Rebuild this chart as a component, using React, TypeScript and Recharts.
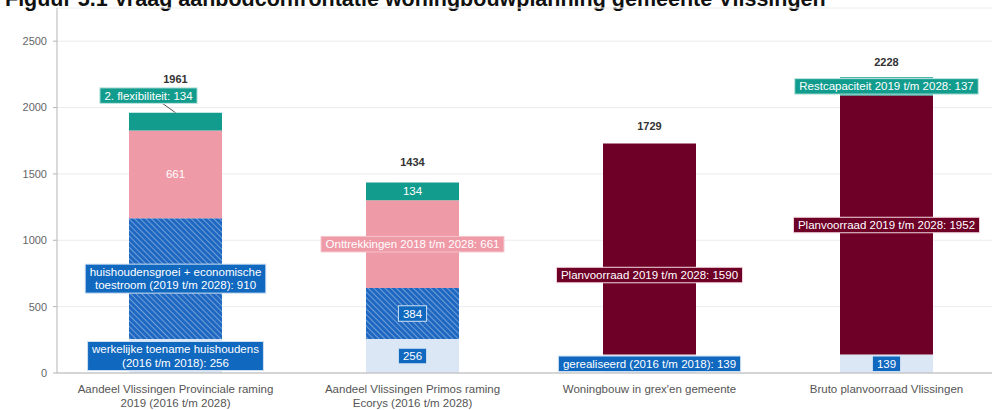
import React from "react";
import { ComposedChart, Bar, Line, XAxis, YAxis, CartesianGrid, LabelList } from "recharts";

const categories = ["Provinciale raming", "Primos raming", "Woningbouw grex", "Bruto planvoorraad"];
const categoryLines = [
  ["Aandeel Vlissingen Provinciale raming", "2019 (2016 t/m 2028)"],
  ["Aandeel Vlissingen Primos raming", "Ecorys (2016 t/m 2028)"],
  ["Woningbouw in grex'en gemeente"],
  ["Bruto planvoorraad Vlissingen"],
];

const realised = [256, 256, 139, 139];
const growth = [910, 384, 0, 0];
const demolition = [661, 661, 0, 0];
const planned = [0, 0, 1590, 1952];
const flexibility = [134, 134, 0, 137];
const totals = [1961, 1434, 1729, 2228];
const yTicks = [0, 500, 1000, 1500, 2000, 2500];

const realisedLabels = [
  ["werkelijke toename huishoudens", "(2016 t/m 2018): 256"],
  ["256"],
  ["gerealiseerd (2016 t/m 2018): 139"],
  ["139"],
];
const growthLabels = [["huishoudensgroei + economische", "toestroom (2019 t/m 2028): 910"], ["384"], [], []];
const demolitionLabels = [["661"], ["Onttrekkingen 2018 t/m 2028: 661"], [], []];
const plannedLabels = [[], [], ["Planvoorraad 2019 t/m 2028: 1590"], ["Planvoorraad 2019 t/m 2028: 1952"]];
const flexLabels = [["2. flexibiliteit: 134"], ["134"], [], ["Restcapaciteit 2019 t/m 2028: 137"]];

const data = categories.map((name, i) => ({
  name,
  realised: realised[i],
  growth: growth[i],
  demolition: demolition[i],
  planned: planned[i],
  flexibility: flexibility[i],
  total: totals[i],
}));

const FONT = "'Liberation Sans', Arial, sans-serif";
const LABEL_SIZE = 11.5;

let ctx: CanvasRenderingContext2D | null = null;
function textWidth(s: string) {
  if (!ctx) ctx = document.createElement("canvas").getContext("2d");
  if (!ctx) return s.length * 6;
  ctx.font = `${LABEL_SIZE}px ${FONT}`;
  return ctx.measureText(s).width;
}

// per-bar label tweaks: shift, leader line, border
type Tweak = { dx?: number; dy?: number; leader?: boolean; plain?: boolean };

function boxLabel(
  values: number[],
  lines: string[][],
  fill: string,
  stroke: string,
  tweaks: Record<number, Tweak> = {}
) {
  // zero segments are skipped by the label list, so map back to the category
  const shown = values.map((v, i) => (v ? i : -1)).filter((i) => i >= 0);
  return (props: any) => {
    let cat = props.payload && props.payload.name ? categories.indexOf(props.payload.name) : -1;
    if (cat < 0) cat = shown[props.index] ?? props.index;
    const txt = lines[cat];
    if (!txt || !txt.length) return null;
    const vb = props.viewBox || {};
    const x = Number(props.x ?? vb.x);
    const y = Number(props.y ?? vb.y);
    const w = Number(props.width ?? vb.width);
    const h = Number(props.height ?? vb.height);
    const t = tweaks[cat] || {};
    const cx = x + w / 2 + (t.dx || 0);
    const cy = y + h / 2 + (t.dy || 0);
    const lh = 13.5;
    const bw = Math.max(...txt.map(textWidth)) + 9;
    const bh = txt.length * lh + 2;
    const top = cy - bh / 2;
    return (
      <g>
        {t.leader && <line x1={cx + 14} y1={top + bh} x2={x + w / 2} y2={y} stroke="#555" strokeWidth={1} />}
        <rect
          x={cx - bw / 2}
          y={top}
          width={bw}
          height={bh}
          fill={fill}
          stroke={t.plain ? "none" : stroke}
          strokeWidth={1}
        />
        {txt.map((s, k) => (
          <text
            key={k}
            x={cx}
            y={top + 1 + lh * k + lh / 2 + 4}
            textAnchor="middle"
            fontSize={LABEL_SIZE}
            fontFamily={FONT}
            fill="#ffffff"
          >
            {s}
          </text>
        ))}
      </g>
    );
  };
}

const totalOffsets = [-34, -21, -18, -15];

function totalLabel(props: any) {
  const x = Number(props.x);
  const y = Number(props.y);
  return (
    <text
      x={x}
      y={y + (totalOffsets[props.index] ?? -18) + 4}
      textAnchor="middle"
      fontSize={11}
      fontWeight="bold"
      fontFamily={FONT}
      fill="#333"
    >
      {props.value}
    </text>
  );
}

function CategoryTick(props: any) {
  const { x, y, payload } = props;
  const lines = categoryLines[payload.index] || [payload.value];
  return (
    <g>
      {lines.map((l, k) => (
        <text key={k} x={x} y={y + 20 + k * 13.5} textAnchor="middle" fontSize={11.5} fontFamily={FONT} fill="#555">
          {l}
        </text>
      ))}
    </g>
  );
}

export default function App() {
  return (
    <div style={{ position: "absolute", left: 0, top: 0, width: 992, height: 410, overflow: "hidden", background: "#fff" }}>
      <div
        style={{
          position: "absolute",
          left: 5,
          top: -12,
          fontFamily: FONT,
          fontWeight: "bold",
          fontSize: 21.5,
          lineHeight: "22px",
          whiteSpace: "nowrap",
          color: "#111",
        }}
      >
        Figuur 5.1 Vraag aanbodconfrontatie woningbouwplanning gemeente Vlissingen
      </div>
      <ComposedChart width={1005} height={410} data={data} margin={{ top: 8, right: 0, bottom: 0, left: 0 }}>
        <defs>
          <pattern id="hatch" width="4" height="4" patternUnits="userSpaceOnUse" patternTransform="rotate(-45)">
            <rect width="4" height="4" fill="#1f68c2" />
            <line x1="0" y1="0" x2="0" y2="4" stroke="#ffffff" strokeWidth={1.3} strokeOpacity={0.55} />
          </pattern>
        </defs>
        <CartesianGrid vertical={false} stroke="#ececec" />
        <XAxis
          dataKey="name"
          height={37}
          tick={<CategoryTick />}
          tickLine={false}
          tickSize={0}
          tickMargin={0}
          interval={0}
          axisLine={{ stroke: "#b5b5b5" }}
        />
        <YAxis
          width={57}
          domain={[0, 2750]}
          ticks={yTicks}
          allowDataOverflow
          tickSize={4}
          tickMargin={6}
          tick={{ fontSize: 11, fill: "#666", fontFamily: FONT }}
          axisLine={{ stroke: "#b5b5b5" }}
          tickLine={{ stroke: "#b5b5b5" }}
        />
        <Bar dataKey="realised" stackId="a" barSize={93} fill="#dbe7f4" isAnimationActive={false}>
          <LabelList content={boxLabel(realised, realisedLabels, "#1068bf", "#cfe0f3")} />
        </Bar>
        <Bar dataKey="growth" stackId="a" barSize={93} fill="url(#hatch)" isAnimationActive={false}>
          <LabelList content={boxLabel(growth, growthLabels, "#1068bf", "#cfe0f3")} />
        </Bar>
        <Bar dataKey="demolition" stackId="a" barSize={93} fill="#ef9aa7" isAnimationActive={false}>
          <LabelList content={boxLabel(demolition, demolitionLabels, "#ef9aa7", "#f6c3cb", { 0: { plain: true } })} />
        </Bar>
        <Bar dataKey="planned" stackId="a" barSize={93} fill="#6e0027" isAnimationActive={false}>
          <LabelList content={boxLabel(planned, plannedLabels, "#6e0027", "#f3d9df", { 2: { dy: 26 } })} />
        </Bar>
        <Bar dataKey="flexibility" stackId="a" barSize={93} fill="#129c8d" isAnimationActive={false}>
          <LabelList
            content={boxLabel(flexibility, flexLabels, "#129c8d", "#bfe6e1", {
              0: { dx: -27, dy: -26, leader: true },
              1: { plain: true },
            })}
          />
        </Bar>
        <Line dataKey="total" stroke="none" dot={false} activeDot={false} legendType="none" isAnimationActive={false}>
          <LabelList content={totalLabel} />
        </Line>
      </ComposedChart>
    </div>
  );
}
